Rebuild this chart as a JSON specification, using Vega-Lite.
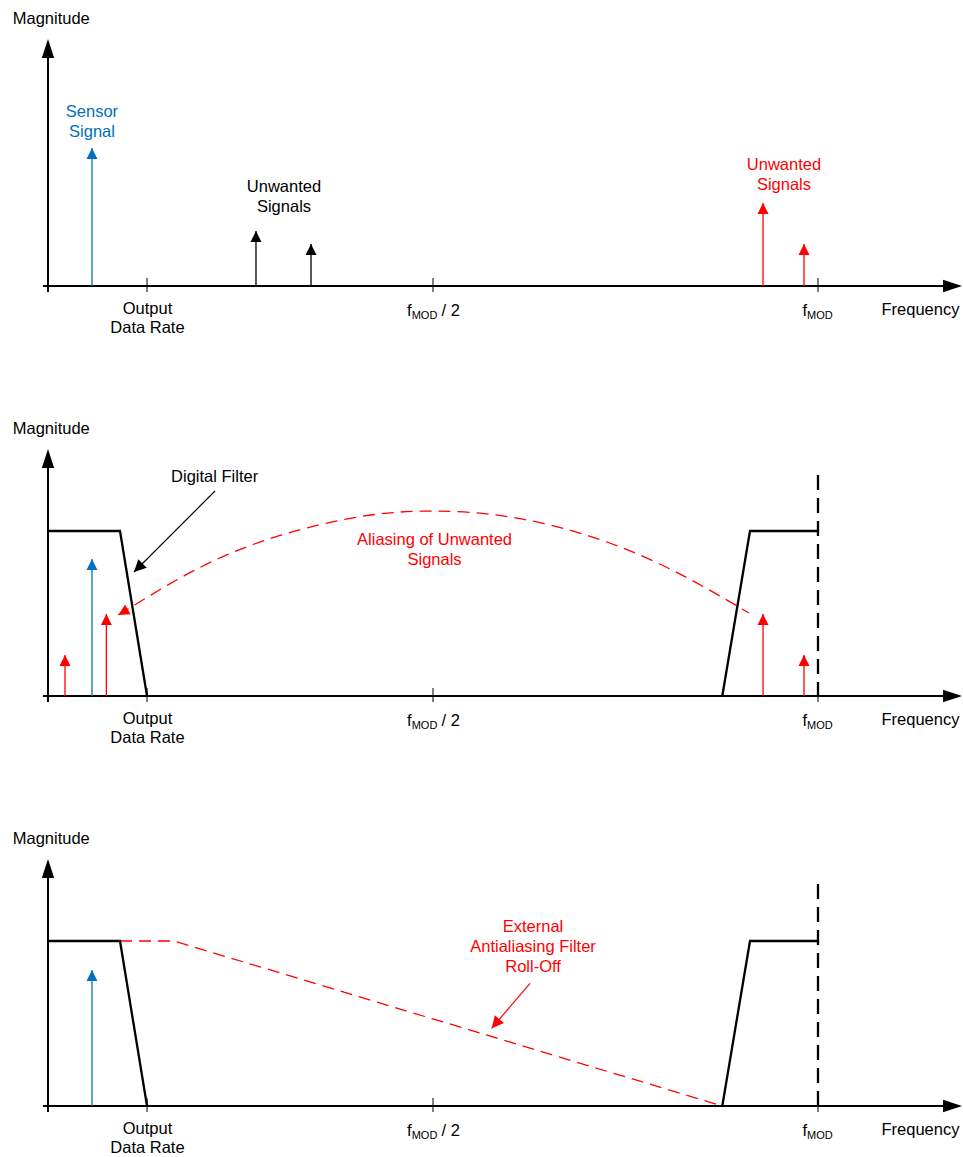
{
  "$schema": "https://vega.github.io/schema/vega-lite/v6.json",
  "padding": 0,
  "bounds": "flush",
  "spacing": {"row": 73},
  "config": {"view": {"stroke": null}},
  "data": {"values": [
    {"panel":1,"type":"axis","x":-0.0065,"y":0,"x2":1.175,"y2":0},
    {"panel":1,"type":"axis","x":0,"y":-0.0364,"x2":0,"y2":1.45},
    {"panel":1,"type":"yhead","x":0,"y":1.497},
    {"panel":1,"type":"xhead","x":1.187,"y":0},
    {"panel":1,"type":"tick","x":0.1286,"y":-0.0364,"x2":0.1286,"y2":0.0485},
    {"panel":1,"type":"tick","x":0.5,"y":-0.0364,"x2":0.5,"y2":0.0485},
    {"panel":1,"type":"tick","x":1,"y":-0.0364,"x2":1,"y2":0.0485},
    {"panel":1,"type":"ylabel","x":-0.0458,"y":1.586,"text":"Magnitude"},
    {"panel":1,"type":"xlabel","x":0.1292,"y":-0.1697,"text":"Output\nData Rate"},
    {"panel":1,"type":"label","kind":"neutral","x":1.1331,"y":-0.1758,"text":"Frequency"},
    {"panel":1,"type":"fsym","which":"half","x":0.5,"y":-0.1818,"text":"f"},
    {"panel":1,"type":"fsub","which":"half","x":0.5,"y":-0.1818,"text":"MOD"},
    {"panel":1,"type":"fsuffix","x":0.5,"y":-0.1818,"text":"/ 2"},
    {"panel":1,"type":"fsym","which":"full","x":1,"y":-0.1818,"text":"f"},
    {"panel":1,"type":"fsub","which":"full","x":1,"y":-0.1818,"text":"MOD"},
    {"panel":1,"type":"signal","kind":"sensor","x":0.0571,"y":0.836},
    {"panel":1,"type":"signal","kind":"inband","x":0.2701,"y":0.333},
    {"panel":1,"type":"signal","kind":"inband","x":0.3416,"y":0.2545},
    {"panel":1,"type":"signal","kind":"alias","x":0.9286,"y":0.503},
    {"panel":1,"type":"signal","kind":"alias","x":0.9818,"y":0.2545},
    {"panel":1,"type":"label","kind":"sensor","x":0.0571,"y":1.026,"text":"Sensor\nSignal"},
    {"panel":1,"type":"label","kind":"inband","x":0.3065,"y":0.5715,"text":"Unwanted\nSignals"},
    {"panel":1,"type":"label","kind":"alias","x":0.9558,"y":0.703,"text":"Unwanted\nSignals"},

    {"panel":2,"type":"axis","x":-0.0065,"y":0,"x2":1.175,"y2":0},
    {"panel":2,"type":"axis","x":0,"y":-0.0364,"x2":0,"y2":1.45},
    {"panel":2,"type":"yhead","x":0,"y":1.497},
    {"panel":2,"type":"xhead","x":1.187,"y":0},
    {"panel":2,"type":"tick","x":0.1286,"y":-0.0364,"x2":0.1286,"y2":0.0485},
    {"panel":2,"type":"tick","x":0.5,"y":-0.0364,"x2":0.5,"y2":0.0485},
    {"panel":2,"type":"tick","x":1,"y":-0.0364,"x2":1,"y2":0.0485},
    {"panel":2,"type":"ylabel","x":-0.0458,"y":1.586,"text":"Magnitude"},
    {"panel":2,"type":"xlabel","x":0.1292,"y":-0.1697,"text":"Output\nData Rate"},
    {"panel":2,"type":"label","kind":"neutral","x":1.1331,"y":-0.1758,"text":"Frequency"},
    {"panel":2,"type":"fsym","which":"half","x":0.5,"y":-0.1818,"text":"f"},
    {"panel":2,"type":"fsub","which":"half","x":0.5,"y":-0.1818,"text":"MOD"},
    {"panel":2,"type":"fsuffix","x":0.5,"y":-0.1818,"text":"/ 2"},
    {"panel":2,"type":"fsym","which":"full","x":1,"y":-0.1818,"text":"f"},
    {"panel":2,"type":"fsub","which":"full","x":1,"y":-0.1818,"text":"MOD"},
    {"panel":2,"type":"signal","kind":"alias","x":0.0221,"y":0.2485},
    {"panel":2,"type":"signal","kind":"sensor","x":0.0571,"y":0.83},
    {"panel":2,"type":"signal","kind":"alias","x":0.0758,"y":0.497},
    {"panel":2,"type":"signal","kind":"alias","x":0.9286,"y":0.497},
    {"panel":2,"type":"signal","kind":"alias","x":0.9818,"y":0.2485},
    {"panel":2,"type":"filter","grp":"low","ord":1,"x":0,"y":1},
    {"panel":2,"type":"filter","grp":"low","ord":2,"x":0.0935,"y":1},
    {"panel":2,"type":"filter","grp":"low","ord":3,"x":0.1286,"y":0},
    {"panel":2,"type":"filter","grp":"high","ord":1,"x":0.8757,"y":0},
    {"panel":2,"type":"filter","grp":"high","ord":2,"x":0.9117,"y":1},
    {"panel":2,"type":"filter","grp":"high","ord":3,"x":1,"y":1},
    {"panel":2,"type":"nyq","x":1,"y":1.34},
    {"panel":2,"type":"arc","ord":1,"x":0.0913,"y":0.491},
    {"panel":2,"type":"arc","ord":2,"x":0.1974,"y":0.779},
    {"panel":2,"type":"arc","ord":3,"x":0.3013,"y":0.973},
    {"panel":2,"type":"arc","ord":4,"x":0.4052,"y":1.087},
    {"panel":2,"type":"arc","ord":5,"x":0.5,"y":1.121},
    {"panel":2,"type":"arc","ord":6,"x":0.6,"y":1.085},
    {"panel":2,"type":"arc","ord":7,"x":0.7039,"y":0.968},
    {"panel":2,"type":"arc","ord":8,"x":0.8078,"y":0.77},
    {"panel":2,"type":"arc","ord":9,"x":0.9104,"y":0.503},
    {"panel":2,"type":"archead","x":0.0913,"y":0.491},
    {"panel":2,"type":"pointer","role":"digital","kind":"neutral","x":0.2169,"y":1.2424,"x2":0.1117,"y2":0.7515},
    {"panel":2,"type":"label","kind":"neutral","x":0.2164,"y":1.2988,"text":"Digital Filter"},
    {"panel":2,"type":"label","kind":"alias","x":0.502,"y":0.9152,"text":"Aliasing of Unwanted\nSignals"},

    {"panel":3,"type":"axis","x":-0.0065,"y":0,"x2":1.175,"y2":0},
    {"panel":3,"type":"axis","x":0,"y":-0.0364,"x2":0,"y2":1.45},
    {"panel":3,"type":"yhead","x":0,"y":1.497},
    {"panel":3,"type":"xhead","x":1.187,"y":0},
    {"panel":3,"type":"tick","x":0.1286,"y":-0.0364,"x2":0.1286,"y2":0.0485},
    {"panel":3,"type":"tick","x":0.5,"y":-0.0364,"x2":0.5,"y2":0.0485},
    {"panel":3,"type":"tick","x":1,"y":-0.0364,"x2":1,"y2":0.0485},
    {"panel":3,"type":"ylabel","x":-0.0458,"y":1.586,"text":"Magnitude"},
    {"panel":3,"type":"xlabel","x":0.1292,"y":-0.1697,"text":"Output\nData Rate"},
    {"panel":3,"type":"label","kind":"neutral","x":1.1331,"y":-0.1758,"text":"Frequency"},
    {"panel":3,"type":"fsym","which":"half","x":0.5,"y":-0.1818,"text":"f"},
    {"panel":3,"type":"fsub","which":"half","x":0.5,"y":-0.1818,"text":"MOD"},
    {"panel":3,"type":"fsuffix","x":0.5,"y":-0.1818,"text":"/ 2"},
    {"panel":3,"type":"fsym","which":"full","x":1,"y":-0.1818,"text":"f"},
    {"panel":3,"type":"fsub","which":"full","x":1,"y":-0.1818,"text":"MOD"},
    {"panel":3,"type":"signal","kind":"sensor","x":0.0571,"y":0.824},
    {"panel":3,"type":"filter","grp":"low","ord":1,"x":0,"y":1},
    {"panel":3,"type":"filter","grp":"low","ord":2,"x":0.0935,"y":1},
    {"panel":3,"type":"filter","grp":"low","ord":3,"x":0.1286,"y":0},
    {"panel":3,"type":"filter","grp":"high","ord":1,"x":0.8757,"y":0},
    {"panel":3,"type":"filter","grp":"high","ord":2,"x":0.9117,"y":1},
    {"panel":3,"type":"filter","grp":"high","ord":3,"x":1,"y":1},
    {"panel":3,"type":"nyq","x":1,"y":1.345},
    {"panel":3,"type":"rolloff","ord":1,"x":0.0935,"y":1},
    {"panel":3,"type":"rolloff","ord":2,"x":0.1636,"y":1},
    {"panel":3,"type":"rolloff","ord":3,"x":0.8757,"y":0},
    {"panel":3,"type":"pointer","role":"rolloff","kind":"alias","x":0.626,"y":0.7436,"x2":0.5762,"y2":0.4709},
    {"panel":3,"type":"label","kind":"alias","x":0.6299,"y":1.0564,"text":"External\nAntialiasing Filter\nRoll-Off"}
  ]},
  "facet": {"row": {"field": "panel", "type": "ordinal", "title": null, "header": {"labels": false}}},
  "spec": {
    "width": 963,
    "height": 337,
    "encoding": {
      "x": {"field": "x", "type": "quantitative", "axis": null, "scale": {"domain": [-0.06234, 1.18831], "nice": false, "zero": false}},
      "y": {"field": "y", "type": "quantitative", "axis": null, "scale": {"domain": [-0.3091, 1.7333], "nice": false, "zero": false}}
    },
    "layer": [
      {
        "transform": [{"filter": "datum.type === 'axis'"}],
        "mark": {"type": "rule", "stroke": "#000000", "strokeWidth": 2},
        "encoding": {"x2": {"field": "x2"}, "y2": {"field": "y2"}}
      },
      {
        "transform": [{"filter": "datum.type === 'yhead'"}],
        "mark": {"type": "point", "shape": "M0,0L-0.65,2L0.65,2Z", "size": 361, "filled": true, "fill": "#000000", "opacity": 1, "strokeWidth": 0, "angle": 0}
      },
      {
        "transform": [{"filter": "datum.type === 'xhead'"}],
        "mark": {"type": "point", "shape": "M0,0L-0.65,2L0.65,2Z", "size": 361, "filled": true, "fill": "#000000", "opacity": 1, "strokeWidth": 0, "angle": 90}
      },
      {
        "transform": [{"filter": "datum.type === 'tick'"}],
        "mark": {"type": "rule", "stroke": "#000000", "strokeWidth": 1},
        "encoding": {"x2": {"field": "x2"}, "y2": {"field": "y2"}}
      },
      {
        "transform": [{"filter": "datum.type === 'arc'"}],
        "mark": {"type": "line", "interpolate": "natural", "stroke": "#FF0000", "strokeWidth": 1.3, "strokeDash": [12, 7]},
        "encoding": {"order": {"field": "ord", "type": "quantitative"}}
      },
      {
        "transform": [{"filter": "datum.type === 'rolloff'"}],
        "mark": {"type": "line", "stroke": "#FF0000", "strokeWidth": 1.3, "strokeDash": [12, 7]},
        "encoding": {"order": {"field": "ord", "type": "quantitative"}}
      },
      {
        "transform": [{"filter": "datum.type === 'filter'"}],
        "mark": {"type": "line", "stroke": "#000000", "strokeWidth": 2.3, "strokeJoin": "miter"},
        "encoding": {"detail": {"field": "grp"}, "order": {"field": "ord", "type": "quantitative"}}
      },
      {
        "transform": [{"filter": "datum.type === 'nyq'"}],
        "mark": {"type": "rule", "stroke": "#000000", "strokeWidth": 2.3, "strokeDash": [15, 8]},
        "encoding": {"y2": {"datum": 0}}
      },
      {
        "transform": [{"filter": "datum.type === 'signal'"}],
        "mark": {"type": "rule", "strokeWidth": 1.3},
        "encoding": {
          "y2": {"datum": 0},
          "color": {"field": "kind", "type": "nominal", "legend": null, "scale": {"domain": ["sensor", "inband", "alias", "neutral"], "range": ["#0070C0", "#000000", "#FF0000", "#000000"]}}
        }
      },
      {
        "transform": [{"filter": "datum.type === 'signal'"}],
        "mark": {"type": "point", "shape": "M0,0L-1,2L1,2Z", "size": 121, "filled": true, "opacity": 1, "strokeWidth": 0},
        "encoding": {
          "color": {"field": "kind", "type": "nominal", "legend": null, "scale": {"domain": ["sensor", "inband", "alias", "neutral"], "range": ["#0070C0", "#000000", "#FF0000", "#000000"]}}
        }
      },
      {
        "transform": [{"filter": "datum.type === 'pointer'"}],
        "mark": {"type": "rule", "strokeWidth": 1.2},
        "encoding": {
          "x2": {"field": "x2"},
          "y2": {"field": "y2"},
          "color": {"field": "kind", "type": "nominal", "legend": null, "scale": {"domain": ["sensor", "inband", "alias", "neutral"], "range": ["#0070C0", "#000000", "#FF0000", "#000000"]}}
        }
      },
      {
        "transform": [{"filter": "datum.type === 'pointer' && datum.role === 'digital'"}],
        "mark": {"type": "point", "shape": "M0,0L-1,2L1,2Z", "size": 144, "filled": true, "fill": "#000000", "opacity": 1, "strokeWidth": 0, "angle": 225},
        "encoding": {
          "x": {"field": "x2", "type": "quantitative", "axis": null},
          "y": {"field": "y2", "type": "quantitative", "axis": null}
        }
      },
      {
        "transform": [{"filter": "datum.type === 'pointer' && datum.role === 'rolloff'"}],
        "mark": {"type": "point", "shape": "M0,0L-1,2L1,2Z", "size": 144, "filled": true, "fill": "#FF0000", "opacity": 1, "strokeWidth": 0, "angle": 220},
        "encoding": {
          "x": {"field": "x2", "type": "quantitative", "axis": null},
          "y": {"field": "y2", "type": "quantitative", "axis": null}
        }
      },
      {
        "transform": [{"filter": "datum.type === 'archead'"}],
        "mark": {"type": "point", "shape": "M0,0L-1,2L1,2Z", "size": 121, "filled": true, "fill": "#FF0000", "opacity": 1, "strokeWidth": 0, "angle": 240}
      },
      {
        "transform": [{"filter": "datum.type === 'label'"}],
        "mark": {"type": "text", "align": "center", "baseline": "alphabetic", "font": "Liberation Sans", "fontSize": 16.5, "lineBreak": "\n", "lineHeight": 20},
        "encoding": {
          "text": {"field": "text"},
          "color": {"field": "kind", "type": "nominal", "legend": null, "scale": {"domain": ["sensor", "inband", "alias", "neutral"], "range": ["#0070C0", "#000000", "#FF0000", "#000000"]}}
        }
      },
      {
        "transform": [{"filter": "datum.type === 'xlabel'"}],
        "mark": {"type": "text", "align": "center", "baseline": "alphabetic", "font": "Liberation Sans", "fontSize": 16.5, "lineBreak": "\n", "lineHeight": 19, "fill": "#000000"},
        "encoding": {"text": {"field": "text"}}
      },
      {
        "transform": [{"filter": "datum.type === 'ylabel'"}],
        "mark": {"type": "text", "align": "left", "baseline": "alphabetic", "font": "Liberation Sans", "fontSize": 16.5, "fill": "#000000"},
        "encoding": {"text": {"field": "text"}}
      },
      {
        "transform": [{"filter": "datum.type === 'fsym' && datum.which === 'half'"}],
        "mark": {"type": "text", "align": "left", "baseline": "alphabetic", "font": "Liberation Sans", "fontSize": 16.5, "fill": "#000000", "dx": -26},
        "encoding": {"text": {"field": "text"}}
      },
      {
        "transform": [{"filter": "datum.type === 'fsub' && datum.which === 'half'"}],
        "mark": {"type": "text", "align": "left", "baseline": "alphabetic", "font": "Liberation Sans", "fontSize": 11, "fill": "#000000", "dx": -21.3, "dy": 3},
        "encoding": {"text": {"field": "text"}}
      },
      {
        "transform": [{"filter": "datum.type === 'fsuffix'"}],
        "mark": {"type": "text", "align": "left", "baseline": "alphabetic", "font": "Liberation Sans", "fontSize": 16.5, "fill": "#000000", "dx": 8.6},
        "encoding": {"text": {"field": "text"}}
      },
      {
        "transform": [{"filter": "datum.type === 'fsym' && datum.which === 'full'"}],
        "mark": {"type": "text", "align": "left", "baseline": "alphabetic", "font": "Liberation Sans", "fontSize": 16.5, "fill": "#000000", "dx": -15.5},
        "encoding": {"text": {"field": "text"}}
      },
      {
        "transform": [{"filter": "datum.type === 'fsub' && datum.which === 'full'"}],
        "mark": {"type": "text", "align": "left", "baseline": "alphabetic", "font": "Liberation Sans", "fontSize": 11, "fill": "#000000", "dx": -10.9, "dy": 3},
        "encoding": {"text": {"field": "text"}}
      }
    ]
  }
}
